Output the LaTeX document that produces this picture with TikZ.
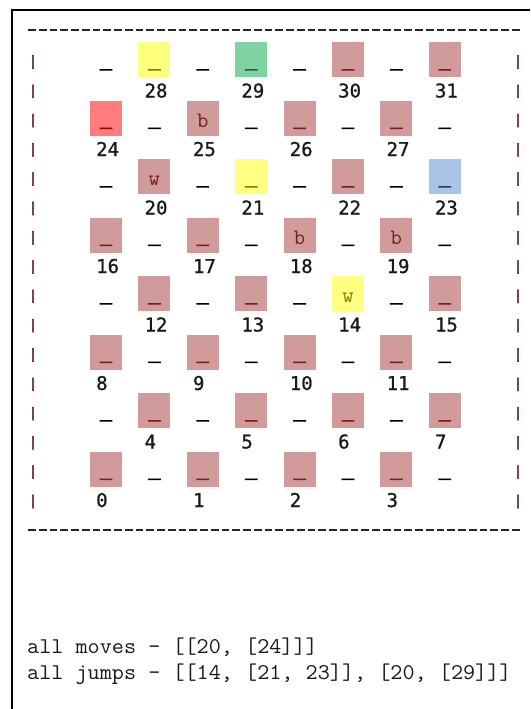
\documentclass[tikz,border=0pt]{standalone}
\usepackage{fontspec}
\newfontfamily\gridfont[FakeBold=1]{DejaVu Sans Mono}
\newfontfamily\barfont[FakeBold=4]{DejaVu Sans Mono}
\newfontfamily\piecefont{Latin Modern Mono}
\newfontfamily\ausgabefont[FakeStretch=1.045]{Latin Modern Mono}

\definecolor{feldbg}{RGB}{210,155,155}
\definecolor{feldfg}{RGB}{120,30,30}
\definecolor{gelbbg}{RGB}{255,255,128}
\definecolor{gelbfg}{RGB}{128,128,0}
\definecolor{gruenbg}{RGB}{126,211,160}
\definecolor{gruenfg}{RGB}{30,100,60}
\definecolor{rotbg}{RGB}{255,124,124}
\definecolor{rotfg}{RGB}{150,0,0}
\definecolor{blaubg}{RGB}{168,197,232}
\definecolor{blaufg}{RGB}{40,60,110}
\definecolor{randfg}{RGB}{100,40,80}

\tikzset{
    feldbox/.style={minimum width=32pt, minimum height=35pt, inner sep=0pt},
    strich/.style={font=\barfont\fontsize{20}{20}\selectfont, anchor=base, yshift=-6pt, inner sep=0pt},
    stein/.style={font=\piecefont\fontsize{22}{22}\selectfont, anchor=base, yshift=-9pt, inner sep=0pt},
    nummer/.style={font=\gridfont\fontsize{19}{19}\selectfont, anchor=base west, inner sep=0pt, text=black!90},
    rand/.style={font=\barfont\fontsize{13}{13}\selectfont, inner sep=0pt, text=randfg},
    ausgabe/.style={font=\ausgabefont\fontsize{22.5}{22.5}\selectfont, anchor=base west, inner sep=0pt, text=black!90}
}

\begin{document}
\begin{tikzpicture}[x=1pt,y=-1pt]
    \useasboundingbox (0,0) rectangle (530,709);

    % Fensterrand
    \draw[line width=1.5pt] (12,709) -- (12,10) -- (530,10);

    % Rahmen oben und unten
    \draw[line width=1.8pt, dash pattern=on 7.8pt off 2.95pt, black!85] (28,30) -- (522,30);
    \draw[line width=1.8pt, dash pattern=on 7.8pt off 2.95pt, black!85] (28,530) -- (522,530);
    \foreach \j in {0,...,15}
    {
        \node[rand] (l\j) at (33,{62+29.3*\j}) {|};
        \node[rand] (r\j) at (518,{62+29.3*\j}) {|};
    }

    % leere Felder
    \foreach \r in {0,...,7}
    {
        \foreach \k in {0,...,3}
        {
            \pgfmathtruncatemacro\c{2*\k+1-mod(\r,2)}
            \node[strich, text=black] (u-\r-\k) at ({106+48.4*\c},{59.5+58.5*(7-\r)}) {\_};
        }
    }

    % Spielfelder
    \foreach \n/\bg/\fg/\st/\s in {
        0/feldbg/feldfg/strich/\_, 1/feldbg/feldfg/strich/\_, 2/feldbg/feldfg/strich/\_, 3/feldbg/feldfg/strich/\_,
        4/feldbg/feldfg/strich/\_, 5/feldbg/feldfg/strich/\_, 6/feldbg/feldfg/strich/\_, 7/feldbg/feldfg/strich/\_,
        8/feldbg/feldfg/strich/\_, 9/feldbg/feldfg/strich/\_, 10/feldbg/feldfg/strich/\_, 11/feldbg/feldfg/strich/\_,
        12/feldbg/feldfg/strich/\_, 13/feldbg/feldfg/strich/\_, 14/gelbbg/gelbfg/stein/w, 15/feldbg/feldfg/strich/\_,
        16/feldbg/feldfg/strich/\_, 17/feldbg/feldfg/strich/\_, 18/feldbg/feldfg/stein/b, 19/feldbg/feldfg/stein/b,
        20/feldbg/feldfg/stein/w, 21/gelbbg/gelbfg/strich/\_, 22/feldbg/feldfg/strich/\_, 23/blaubg/blaufg/strich/\_,
        24/rotbg/rotfg/strich/\_, 25/feldbg/feldfg/stein/b, 26/feldbg/feldfg/strich/\_, 27/feldbg/feldfg/strich/\_,
        28/gelbbg/gelbfg/strich/\_, 29/gruenbg/gruenfg/strich/\_, 30/feldbg/feldfg/strich/\_, 31/feldbg/feldfg/strich/\_}
    {
        \pgfmathtruncatemacro\r{int(\n/4)}
        \pgfmathtruncatemacro\c{2*(\n-4*\r)+mod(\r,2)}
        \node[feldbox, fill=\bg] (f\n) at ({106+48.4*\c},{59.5+58.5*(7-\r)}) {};
        \node[\st, text=\fg] (s\n) at (f\n.center) {\s};
        \node[nummer] (n\n) at ([xshift=-10pt, yshift=-38pt]f\n.center) {\n};
    }

    % Ausgabe
    \node[ausgabe] (zuege) at (27,653) {all moves - [[20, [24]]]};
    \node[ausgabe] (spruenge) at (27,679) {all jumps - [[14, [21, 23]], [20, [29]]]};
\end{tikzpicture}
\end{document}
